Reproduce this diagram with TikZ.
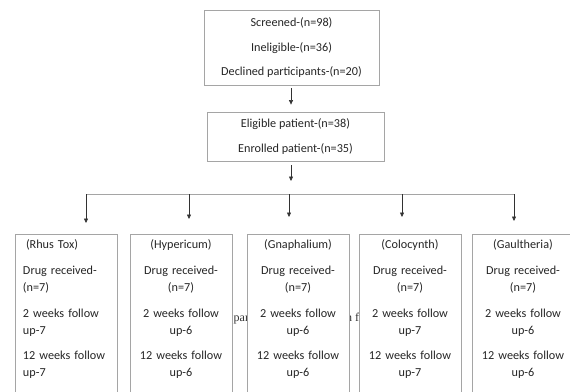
\documentclass[tikz,border=0pt]{standalone}
\usepackage{fontspec}
\setmainfont{Carlito}
\newfontfamily\strayfont{Liberation Serif}
\usetikzlibrary{arrows.meta}
\definecolor{boxgray}{RGB}{165,165,165}
\definecolor{arrgray}{RGB}{50,50,50}
\begin{document}
\begin{tikzpicture}[x=1pt,y=-1pt,
  box/.style={draw=boxgray, line width=0.8pt, fill=white, text=black!85,
    font=\fontsize{12.2}{17}\selectfont},
  armbox/.style={box, anchor=north, minimum width=102pt, text width=86pt,
    inner xsep=8pt, inner ysep=5pt, text depth=170pt},
  arr/.style={draw=arrgray, line width=0.6pt, -{Triangle[length=4.5pt,width=4pt]}},
  bar/.style={draw=boxgray, line width=0.8pt},
  stray/.style={font=\strayfont\fontsize{12}{14}\selectfont, text=black!80, inner sep=0pt, anchor=base west}]
\useasboundingbox (0,0) rectangle (570,391);
\clip (0,0) rectangle (570,391);
\fill[white] (0,0) rectangle (570,391);

% stray fragments of underlying text
\node[stray] (s1) at (233.5,321) {par};
\node[stray] (s2) at (346,321) {h f};

% top boxes
\node[box, minimum width=175pt, minimum height=75pt, align=center] (scr) at (291.5,47.5)
  {Screened-(n=98)\\[8pt]Ineligible-(n=36)\\[7pt]Declined participants-(n=20)};
\node[box, minimum width=177pt, minimum height=49pt, align=center] (elig) at (295.5,136.5)
  {Eligible patient-(n=38)\\[8pt]Enrolled patient-(n=35)};

% arm boxes
\node[armbox, align=left] (b1) at (66,234)
  {\hspace{3pt}(Rhus Tox)\\[9pt]Drug received-\\(n=7)\\[9pt]2 weeks follow\\up-7\\[8pt]12 weeks follow\\up-7};
\node[armbox, align=center] (b2) at (181,234)
  {(Hypericum)\\[9pt]Drug received-\\(n=7)\\[9pt]2 weeks follow\\up-6\\[8pt]12 weeks follow\\up-6};
\node[armbox, align=center] (b3) at (298,234)
  {(Gnaphalium)\\[9pt]Drug received-\\(n=7)\\[9pt]2 weeks follow\\up-6\\[8pt]12 weeks follow\\up-6};
\node[armbox, align=center] (b4) at (410,234)
  {(Colocynth)\\[9pt]Drug received-\\(n=7)\\[9pt]2 weeks follow\\up-7\\[8pt]12 weeks follow\\up-7};
\node[armbox, align=center] (b5) at (523,234)
  {(Gaultheria)\\[9pt]Drug received-\\(n=7)\\[9pt]2 weeks follow\\up-6\\[8pt]12 weeks follow\\up-6};

% connectors
\coordinate (a1) at (291,85);
\draw[arr, shorten <=3pt, shorten >=7pt] (a1) -- (a1 |- elig.north);
\coordinate (a2s) at (291,165);
\coordinate (a2e) at (291,181);
\draw[arr] (a2s) -- (a2e);

\coordinate (barL) at (86,194);
\coordinate (barR) at (514,194);
\draw[bar] (barL) -- (barR);

\coordinate (p1) at (86,194);
\coordinate (p2) at (189,194);
\coordinate (p3) at (289,194);
\coordinate (p4) at (402,194);
\coordinate (p5) at (514,194);
\draw[arr, shorten >=11pt] (p1) -- (p1 |- b1.north);
\draw[arr, shorten >=15pt] (p2) -- (p2 |- b2.north);
\draw[arr, shorten >=17pt] (p3) -- (p3 |- b3.north);
\draw[arr, shorten >=17pt] (p4) -- (p4 |- b4.north);
\draw[arr, shorten >=13pt] (p5) -- (p5 |- b5.north);
\end{tikzpicture}
\end{document}
